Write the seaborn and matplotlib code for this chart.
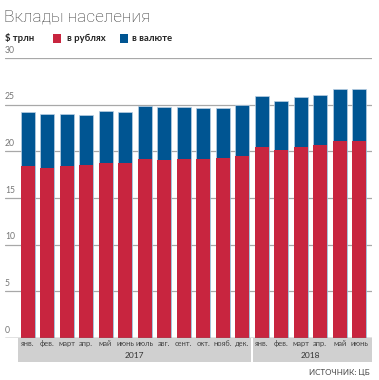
import numpy as np
import pandas as pd
import matplotlib
matplotlib.use("Agg")
import matplotlib.pyplot as plt
import matplotlib.transforms as mtransforms
from matplotlib.patches import Rectangle
import seaborn as sns

# deposits, trillion rubles
months = ["янв.", "фев.", "март", "апр.", "май", "июнь", "июль", "авг.", "сент.",
          "окт.", "нояб.", "дек.", "янв.", "фев.", "март", "апр.", "май", "июнь"]
years = ["2017", "2018"]
year_len = [12, 6]
rub = [18.4, 18.2, 18.4, 18.5, 18.7, 18.8, 19.2, 19.1, 19.2,
       19.2, 19.3, 19.5, 20.5, 20.1, 20.5, 20.7, 21.1, 21.1]
fx = [5.8, 5.8, 5.6, 5.4, 5.6, 5.4, 5.7, 5.65, 5.55,
      5.45, 5.35, 5.45, 5.4, 5.3, 5.3, 5.35, 5.55, 5.55]

RED = "#c8253f"
BLUE = "#005592"

sns.set_style("white")
plt.rcParams["font.family"] = ["Lato", "DejaVu Sans"]

df = pd.DataFrame({"pos": np.arange(len(months)), "rub": rub, "fx": fx})
df["total"] = df["rub"] + df["fx"]

fig = plt.figure(figsize=(3.79, 3.80), dpi=100)
ax = fig.add_axes([5 / 379, 42 / 380, 367 / 379, 280 / 380])

sns.barplot(data=df, x="pos", y="total", color=BLUE, width=0.72, saturation=1,
            edgecolor="#b9cfe3", linewidth=0.5, ax=ax, zorder=3)
sns.barplot(data=df, x="pos", y="rub", color=RED, width=0.72, saturation=1,
            linewidth=0, ax=ax, zorder=4)

ax.set_xlim(-1.16, 17.66)
ax.set_ylim(0, 30)
ax.set_xlabel("")
ax.set_ylabel("")
ax.set_xticks([])
ax.set_yticks([])
for s in ax.spines.values():
    s.set_visible(False)

for v in range(5, 31, 5):
    ax.axhline(v, color="#a8a8a8", lw=0.9, zorder=1)
ax.axhline(0, color="#707070", lw=1.0, zorder=5)
trans_y = mtransforms.blended_transform_factory(ax.transAxes, ax.transData)
for v in range(0, 31, 5):
    ax.text(0.0, v + 0.35, str(v), transform=trans_y, fontsize=6.2,
            color="#777777", ha="left", va="bottom")

# month / year band under the axis
trans_x = mtransforms.blended_transform_factory(ax.transData, ax.transAxes)
start = 0
for y, n in zip(years, year_len):
    x0 = start - 0.5 if start == 0 else start - 0.42
    x1 = start + n - 0.55 if start == 0 else start + n - 0.35
    ax.add_patch(Rectangle((x0, -0.085), x1 - x0, 0.085, transform=trans_x,
                           facecolor="#d0d0d0", edgecolor="none", clip_on=False, zorder=0))
    ax.text(start + (n - 1) / 2, -0.061, y, transform=trans_x, fontsize=6,
            color="#333333", ha="center", va="center")
    start += n
for i, m in enumerate(months):
    ax.text(i, -0.021, m, transform=trans_x, fontsize=5.4, color="#444444",
            ha="center", va="center")

fig.text(4 / 379, 1 - 22 / 380, "Вклады населения", fontsize=12.4,
         fontweight="light", color="#333333", ha="left", va="baseline",
         family=["Roboto", "DejaVu Sans"])
fig.text(5 / 379, 1 - 41 / 380, "$ трлн", fontsize=6.8, fontweight="bold",
         color="#222222", ha="left", va="baseline")
fig.patches.append(Rectangle((53 / 379, 1 - 43 / 380), 8 / 379, 9 / 380,
                             transform=fig.transFigure, facecolor=RED, edgecolor="none"))
fig.text(67 / 379, 1 - 41 / 380, "в рублях", fontsize=6.8, fontweight="bold",
         color="#222222", ha="left", va="baseline")
fig.patches.append(Rectangle((120 / 379, 1 - 43 / 380), 8 / 379, 9 / 380,
                             transform=fig.transFigure, facecolor=BLUE, edgecolor="none"))
fig.text(132 / 379, 1 - 41 / 380, "в валюте", fontsize=6.8, fontweight="bold",
         color="#222222", ha="left", va="baseline")
fig.text(370 / 379, 1 - 375 / 380, "ИСТОЧНИК: ЦБ", fontsize=5.8,
         color="#444444", ha="right", va="baseline")

fig.savefig("out.png", dpi=100)
